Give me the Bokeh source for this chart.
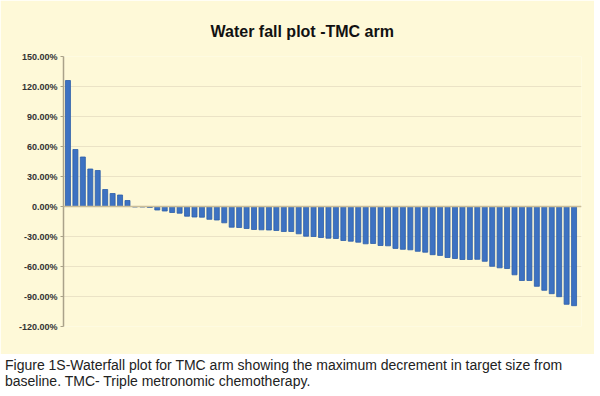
from bokeh.plotting import figure
from bokeh.models import (ColumnDataSource, FixedTicker, PrintfTickFormatter,
                          Span, Title, Div, Range1d)
from bokeh.layouts import column
from bokeh.embed import file_html
from bokeh.resources import INLINE

# Best % change in target lesion size per patient (TMC arm), sorted
patients = list(range(69))
change_pct = [126, 57, 49.5, 37.5, 36, 17, 13, 11.5, 6,
              -0.5, -0.5, -1, -3.5, -4.5, -6, -6.7, -9.7, -10.5, -10.7,
              -12.8, -13.5, -16.3, -20.7, -21, -22, -23, -23.3, -23.5,
              -24, -25, -25, -27.3, -29.7, -30, -31, -31.7, -32, -34,
              -34.7, -35.7, -37.3, -37, -39, -39.3, -41.9, -42.8, -43.3,
              -44.8, -45.7, -48.2, -48.9, -51, -52, -53, -53, -52.8,
              -54.8, -59.8, -61.3, -62, -68.3, -74, -74, -79.8, -83.8,
              -87.2, -90.2, -97.8, -99.2]
y_ticks = [-120, -90, -60, -30, 0, 30, 60, 90, 120, 150]

title_text = "Water fall plot -TMC arm"
caption_lines = ["Figure 1S-Waterfall plot for TMC arm showing the maximum decrement in target size from",
                 "baseline. TMC- Triple metronomic chemotherapy."]

BG = "#fef9d8"
FONT = "Liberation Sans"

src = ColumnDataSource(dict(x=patients, top=change_pct))

p = figure(width=594, height=354, output_backend="svg", toolbar_location=None,
           x_range=Range1d(-0.6, 69.0), y_range=Range1d(-120, 150),
           background_fill_color=BG, border_fill_color=BG,
           min_border_left=63, min_border_right=13, min_border_top=56,
           min_border_bottom=28, outline_line_color=None)

p.add_layout(Title(text=title_text, align="left", offset=147, standoff=33,
                   text_font=FONT, text_font_size="16px",
                   text_font_style="bold", text_color="#111111"), "above")

p.vbar(x="x", top="top", bottom=0, width=0.67, source=src,
       fill_color="#3d72c2", line_color="#2c5ea8", line_width=0.8)

p.xaxis.visible = False
p.xgrid.visible = False
p.ygrid.grid_line_color = "#ebe3c6"
p.ygrid.grid_line_width = 1.2

ax = p.yaxis[0]
ax.ticker = FixedTicker(ticks=y_ticks)
ax.formatter = PrintfTickFormatter(format="%.2f%%")
ax.axis_line_color = "#aaa28a"
ax.axis_line_width = 1.5
ax.major_tick_line_color = "#aaa28a"
ax.major_tick_in = 0
ax.major_tick_out = 3
ax.minor_tick_line_color = None
ax.major_label_text_font = FONT
ax.major_label_text_font_size = "9px"
ax.major_label_text_font_style = "bold"
ax.major_label_text_color = "#333333"
ax.major_label_standoff = 3

p.add_layout(Span(location=0, dimension="width", line_color="#c9bd98",
                  line_width=1.6))

div = Div(text="<br>".join(caption_lines), width=594,
          styles={"font-family": FONT + ", Arial, sans-serif",
                  "font-size": "14px", "color": "#222222",
                  "line-height": "16px", "margin-top": "3px",
                  "padding-left": "0px"})

layout = column(p, div, spacing=0)

open("out.html", "w").write(file_html(layout, INLINE))
